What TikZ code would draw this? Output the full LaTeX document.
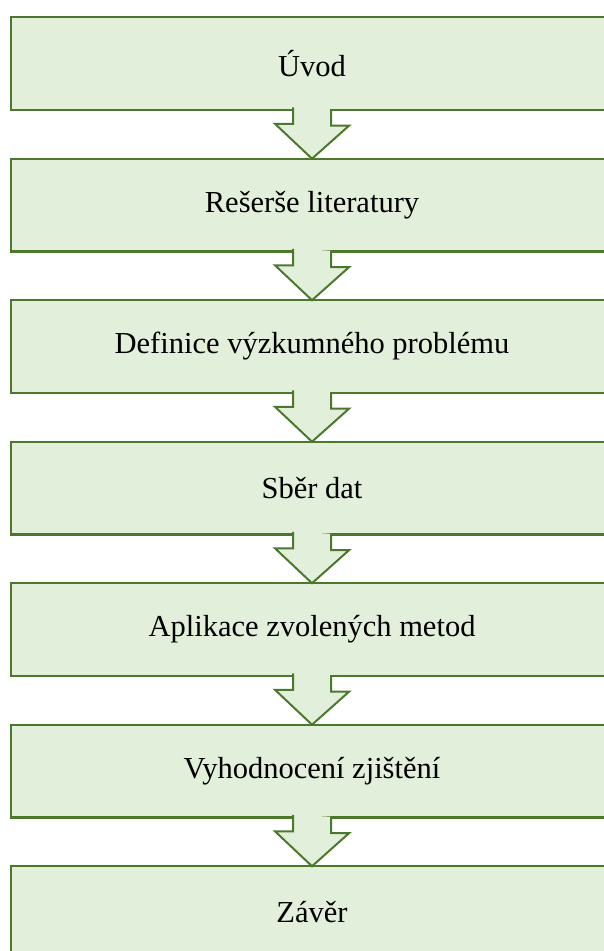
\documentclass[tikz,border=0pt]{standalone}
\usepackage{fontspec}
\setmainfont{Liberation Serif}
\usetikzlibrary{positioning}
\definecolor{stagefill}{RGB}{226,239,218}
\definecolor{stageline}{RGB}{76,120,46}
\tikzset{
  stage/.style={draw=stageline, fill=stagefill, line width=2.4pt,
    minimum width=601.6pt, minimum height=92.6pt, inner sep=0pt, outer sep=0pt,
    font=\fontsize{30.5}{32}\selectfont},
  flowarrow/.style={draw=stageline, fill=stagefill, line width=2pt, line join=miter}
}
\begin{document}
\begin{tikzpicture}[x=1pt, y=-1pt]
  \useasboundingbox (0,0) rectangle (604,951);
  % Stages
  \foreach \t [count=\i] in {Úvod, Rešerše literatury, Definice výzkumného problému,
      Sběr dat, Aplikace zvolených metod, Vyhodnocení zjištění, Závěr} {
    \node[stage] (b\i) at (312, 63.5+141.5*\i-141.5) {\t};
  }
  % Block arrows between stages
  \foreach \i [evaluate=\i as \j using int(\i+1)] in {1,...,6} {
    \path[flowarrow] (b\i.south) ++(-19,-2.5) -- ++(0,16.5) -- ++(-18,0)
      -- (b\j.north) -- ++(37,-33) -- ++(-18,0) -- ++(0,-16.5);
  }
\end{tikzpicture}
\end{document}
